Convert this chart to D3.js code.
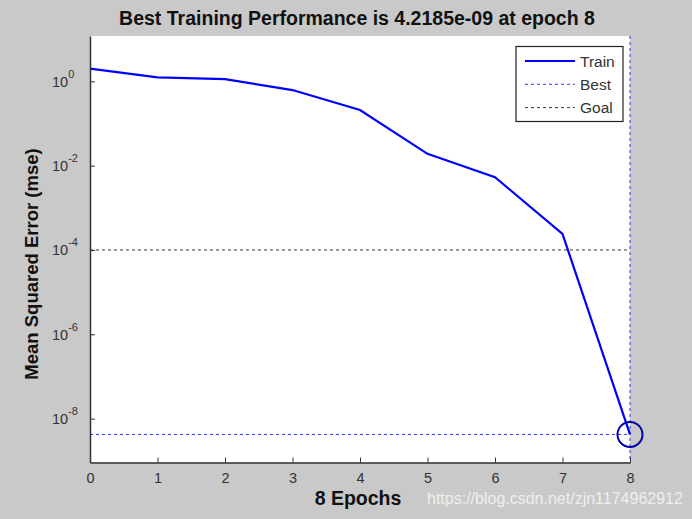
<!DOCTYPE html>
<html><head><meta charset="utf-8">
<script src="https://cdn.jsdelivr.net/npm/d3@7"></script>
<style>
body{margin:0;background:#c9c9c9;}
text{font-family:"Liberation Sans",Arial,sans-serif;}
</style></head>
<body><svg id="chart" width="692" height="519"></svg>
<script>
const epochs = [0,1,2,3,4,5,6,7,8];
const trainPerf = [1.99,1.24,1.13,0.62,0.209,0.019,0.0053,2.4e-4,4.2185e-9];
const bestEpoch = 8;
const bestPerf = 4.2185e-9;
const goal = 1e-4;
const xTicks = [0,1,2,3,4,5,6,7,8];
const yTickExps = [0,-2,-4,-6,-8];
const legendLabels = ["Train","Best","Goal"];
const titleText = "Best Training Performance is 4.2185e-09 at epoch 8";
const xLabel = "8 Epochs";
const yLabel = "Mean Squared Error  (mse)";
const watermark = "https://blog.csdn.net/zjn1174962912";

const svg = d3.select("#chart");
const L=90, R=630, T=36, B=462.5;
const x = d3.scaleLinear().domain([0,8]).range([L,R]);
const y = d3.scaleLog().domain([Math.pow(10,-9.04), Math.pow(10,1.074)]).range([B,T]);

svg.append("rect").attr("width",692).attr("height",519).attr("fill","#c9c9c9");
svg.append("rect").attr("x",L).attr("y",T).attr("width",R-L).attr("height",B-T).attr("fill","#fff");

svg.append("line").attr("x1",L).attr("x2",R).attr("y1",y(goal)).attr("y2",y(goal))
  .attr("stroke","#333").attr("stroke-width",1).attr("stroke-dasharray","3,3");
svg.append("line").attr("x1",L).attr("x2",x(bestEpoch)).attr("y1",y(bestPerf)).attr("y2",y(bestPerf))
  .attr("stroke","#3333ff").attr("stroke-width",1).attr("stroke-dasharray","3,3");
svg.append("line").attr("x1",x(bestEpoch)).attr("x2",x(bestEpoch)).attr("y1",T).attr("y2",B)
  .attr("stroke","#3333ff").attr("stroke-width",1).attr("stroke-dasharray","3,3");

const line = d3.line().x((d,i)=>x(epochs[i])).y(d=>y(d));
svg.append("path").datum(trainPerf).attr("d",line).attr("fill","none")
  .attr("stroke","#0000ff").attr("stroke-width",2.2);

svg.append("circle").attr("cx",x(bestEpoch)).attr("cy",y(bestPerf)).attr("r",12.5)
  .attr("fill","none").attr("stroke","#0000a8").attr("stroke-width",2);

const xAxis = svg.append("g").attr("transform",`translate(0,${B})`)
  .call(d3.axisBottom(x).tickValues(xTicks).tickSize(-5).tickSizeOuter(0).tickFormat(d3.format("d")));
xAxis.select(".domain").attr("stroke","#333").attr("stroke-width",1.5);
xAxis.selectAll(".tick line").attr("stroke","#333");
xAxis.selectAll(".tick text").attr("y",10).attr("dy","0.71em").attr("font-size",14.5).attr("fill","#333");

const yAxis = svg.append("g").attr("transform",`translate(${L},0)`)
  .call(d3.axisLeft(y).tickValues(yTickExps.map(e=>Math.pow(10,e))).tickSize(-5).tickSizeOuter(0).tickFormat(""));
yAxis.select(".domain").attr("stroke","#333").attr("stroke-width",1.5);
yAxis.selectAll(".tick line").attr("stroke","#333");
yAxis.selectAll(".tick").each(function(d){
  const e = Math.round(Math.log10(d));
  const t = d3.select(this).select("text").attr("x",-38).attr("dy",null).attr("y",5)
    .attr("text-anchor","start").attr("fill","#333").attr("font-size",14.5);
  t.text("");
  t.append("tspan").text("10");
  t.append("tspan").attr("dy",-9).attr("font-size",11).text(e);
});

svg.append("text").attr("x",(L+R)/2-3).attr("y",25).attr("text-anchor","middle")
  .attr("font-size",19.5).attr("font-weight","bold").attr("fill","#111").text(titleText);
svg.append("text").attr("x",(L+R)/2-2).attr("y",505).attr("text-anchor","middle")
  .attr("font-size",19.5).attr("font-weight","bold").attr("fill","#111").text(xLabel);
svg.append("text").attr("transform","translate(38,264) rotate(-90)").attr("text-anchor","middle")
  .attr("font-size",18.5).attr("font-weight","bold").attr("fill","#111").text(yLabel);

const lg = svg.append("g");
lg.append("rect").attr("x",516).attr("y",46.5).attr("width",107).attr("height",75)
  .attr("fill","#fff").attr("stroke","#222").attr("stroke-width",1.2);
const lStyles = [
  {stroke:"#0000ff",w:2.2,dash:null},
  {stroke:"#3333ff",w:1,dash:"3,3"},
  {stroke:"#333",w:1,dash:"3,3"}
];
legendLabels.forEach((lab,i)=>{
  const yy = 61 + i*23.3;
  lg.append("line").attr("x1",525).attr("x2",575).attr("y1",yy).attr("y2",yy)
    .attr("stroke",lStyles[i].stroke).attr("stroke-width",lStyles[i].w)
    .attr("stroke-dasharray",lStyles[i].dash);
  lg.append("text").attr("x",580).attr("y",yy+5.5).attr("font-size",15.5).attr("fill","#333").text(lab);
});

svg.append("text").attr("x",427).attr("y",504).attr("font-size",16).attr("fill","#f4f4f4")
  .attr("opacity",0.9).text(watermark);
</script></body></html>
